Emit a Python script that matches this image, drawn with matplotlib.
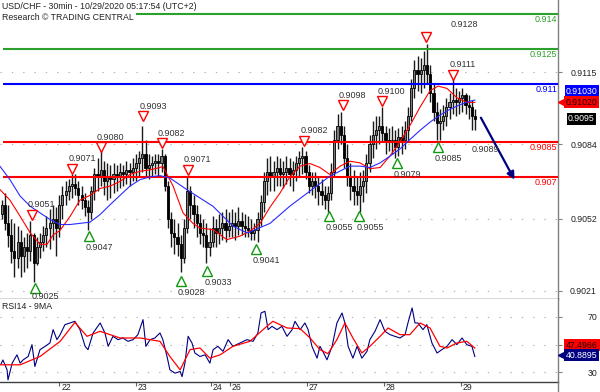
import matplotlib
matplotlib.use("Agg")
import matplotlib.pyplot as plt
import matplotlib.transforms as mtrans
from matplotlib.lines import Line2D
import numpy as np

plt.rcParams["font.family"] = ["Liberation Sans", "DejaVu Sans"]

# ---------------- data (prices in 1/10000 units, hourly bars) ----------------
first_open = 9054
highs = [9060, 9063, 9058, 9052, 9050, 9049, 9047, 9044, 9046, 9051,
         9046, 9044, 9046, 9049, 9053, 9056, 9058, 9057, 9062, 9066,
         9068, 9069, 9071, 9071, 9068, 9066, 9063, 9060, 9066, 9074,
         9078, 9081, 9077, 9076, 9075, 9076, 9075, 9076, 9075, 9077,
         9076, 9078, 9080, 9081, 9092, 9086, 9080, 9079, 9080, 9080,
         9082, 9080, 9068, 9055, 9052, 9050, 9045, 9052, 9070, 9066,
         9062, 9058, 9054, 9052, 9050, 9048, 9053, 9052, 9054, 9055,
         9056, 9055, 9056, 9055, 9057, 9055, 9054, 9053, 9052, 9050,
         9055, 9062, 9072, 9078, 9079, 9077, 9079, 9078, 9077, 9079,
         9078, 9077, 9079, 9081, 9083, 9081, 9075, 9072, 9072, 9070,
         9069, 9066, 9066, 9076, 9090, 9097, 9098, 9092, 9084, 9076,
         9073, 9070, 9072, 9073, 9080, 9088, 9094, 9096, 9096, 9100,
         9092, 9091, 9092, 9090, 9091, 9092, 9094, 9100, 9112, 9120,
         9122, 9121, 9124, 9127, 9118, 9110, 9102, 9099, 9101, 9104,
         9106, 9112, 9108, 9107, 9108, 9106, 9105, 9103, 9099]
lows = [9052, 9047, 9040, 9033, 9027, 9031, 9027, 9029, 9031, 9034,
        9025, 9032, 9035, 9038, 9040, 9039, 9043, 9036, 9044, 9052,
        9058, 9060, 9061, 9062, 9058, 9056, 9053, 9047, 9052, 9060,
        9064, 9066, 9062, 9060, 9061, 9063, 9064, 9065, 9066, 9067,
        9066, 9068, 9068, 9070, 9072, 9070, 9069, 9070, 9071, 9070,
        9072, 9064, 9048, 9040, 9037, 9036, 9029, 9033, 9046, 9052,
        9048, 9044, 9041, 9040, 9033, 9036, 9040, 9040, 9041, 9043,
        9042, 9044, 9044, 9043, 9045, 9045, 9044, 9044, 9043, 9043,
        9042, 9049, 9055, 9062, 9064, 9064, 9066, 9066, 9065, 9067,
        9066, 9064, 9068, 9070, 9071, 9069, 9063, 9062, 9061, 9058,
        9058, 9056, 9055, 9060, 9070, 9082, 9084, 9074, 9066, 9060,
        9058, 9058, 9055, 9059, 9063, 9072, 9078, 9082, 9084, 9085,
        9080, 9081, 9080, 9078, 9079, 9080, 9082, 9085, 9094, 9104,
        9107, 9106, 9108, 9110, 9102, 9094, 9086, 9086, 9090, 9092,
        9095, 9097, 9096, 9097, 9098, 9097, 9095, 9090, 9090]
closes = [9058, 9050, 9045, 9038, 9035, 9042, 9036, 9040, 9038, 9045,
          9033, 9040, 9042, 9045, 9048, 9050, 9052, 9048, 9058, 9062,
          9064, 9066, 9067, 9065, 9062, 9060, 9057, 9055, 9064, 9071,
          9070, 9073, 9068, 9070, 9069, 9071, 9070, 9072, 9071, 9073,
          9072, 9074, 9076, 9078, 9080, 9074, 9075, 9076, 9077, 9076,
          9079, 9066, 9052, 9046, 9044, 9041, 9035, 9048, 9064, 9058,
          9054, 9050, 9046, 9045, 9040, 9042, 9048, 9046, 9048, 9050,
          9047, 9049, 9050, 9049, 9051, 9049, 9048, 9047, 9046, 9047,
          9052, 9059, 9068, 9072, 9070, 9072, 9074, 9071, 9072, 9074,
          9071, 9073, 9076, 9078, 9079, 9072, 9066, 9068, 9066, 9064,
          9062, 9060, 9063, 9072, 9086, 9092, 9088, 9078, 9070, 9066,
          9064, 9062, 9066, 9068, 9076, 9084, 9088, 9090, 9092, 9089,
          9086, 9085, 9086, 9083, 9087, 9086, 9090, 9096, 9108, 9116,
          9114, 9116, 9118, 9114, 9106, 9098, 9093, 9094, 9096, 9100,
          9102, 9103, 9102, 9104, 9105, 9101, 9100, 9096, 9095]

# moving averages on price (hour index, price)
red_ma_t = [0, 3.1, 6.3, 9.4, 12.5, 14.7, 16.6, 18.8, 21.9, 25, 28.1, 31.3, 34.4, 37.5,
            40.6, 43.8, 46.9, 50, 50.9, 54.1, 57.2, 60.3, 62.5, 66.6, 70.9, 75, 78.1, 81.3,
            84.4, 87.5, 90.6, 93.8, 96.9, 100, 103.1, 106.3, 109.4, 112.5, 115.6, 118.8,
            121.9, 125, 128.1, 131.3, 134.4, 136.9, 139.7, 142.8, 145.9, 148.4]
red_ma_v = [9064.5, 9060, 9053, 9046, 9041, 9041, 9045, 9047, 9053, 9060, 9062, 9065, 9066,
            9068, 9071, 9072.4, 9073, 9074, 9074.5, 9066, 9054.5, 9050, 9048, 9047.3, 9043,
            9044.5, 9046.7, 9050, 9057, 9063, 9070, 9074.6, 9075.7, 9074, 9071, 9074.6,
            9076.7, 9076, 9073.5, 9074, 9079, 9085, 9092, 9100, 9107, 9109, 9108, 9104,
            9102, 9102]
blue_ma_t = [0, 3.1, 6.3, 9.4, 12.5, 15.6, 18.8, 21.9, 25, 28.1, 31.3, 34.4, 37.5, 40.6,
             43.8, 46.9, 50, 53.1, 58.4, 66.6, 72.8, 77.2, 78.1, 84.4, 90.6, 96.9, 103.1,
             109.4, 112.5, 115.6, 118.8, 121.9, 125, 128.1, 131.3, 134.4, 137.5, 140.6,
             143.8, 146.9, 148.4]
blue_ma_v = [9074.5, 9068.8, 9061.7, 9057.4, 9054.5, 9051.7, 9049.5, 9049.5, 9050, 9050.5,
             9053.8, 9058, 9062, 9066, 9068.8, 9070, 9070.5, 9069.5, 9064.5, 9057.3, 9048.8,
             9045.9, 9046.3, 9050, 9057.4, 9063.9, 9070.3, 9074.6, 9074.6, 9074, 9076,
             9078.9, 9082, 9086, 9090, 9093.5, 9096.5, 9099, 9101, 9102.5, 9103]

# support / resistance levels
levels = [0.9140, 0.9125, 0.9110, 0.9085, 0.9070]
level_labels = ["0.914", "0.9125", "0.911", "0.9085", "0.907"]
level_colors = ["#2ca02c", "#2ca02c", "#0000ff", "#ff0000", "#ff0000"]

# swing markers
high_t = [10.0, 22.6, 31.5, 44.8, 50.5, 58.7, 95.1, 107.1, 119.3, 133.3, 141.7]
high_p = [9053.8, 9073.4, 9082.8, 9096, 9084.5, 9073, 9085.6, 9100.7, 9102.4, 9130.3, 9113.8]
high_lbl = ["0.9051", "0.9071", "0.9080", "0.9093", "0.9082", "0.9071", "0.9082",
            "0.9098", "0.9100", "0.9128", "0.9111"]
low_t = [10.9, 27.8, 56.5, 64.8, 80.0, 102.8, 112.3, 124.0, 136.8]
low_p = [9022, 9044.4, 9025.1, 9029.7, 9038.8, 9053, 9053, 9076, 9082.8]
low_lbl = ["0.9025", "0.9047", "0.9028", "0.9033", "0.9041", "0.9055", "0.9055",
           "0.9079", "0.9085"]

# projection
proj_from = (150.3, 9095.4)
proj_to = (160.8, 9068.8)
proj_lbl = "0.9089"
proj_lbl_pos = (147.4, 9081.7)

# RSI
rsi_t = [0.3, 0.9, 2.2, 2.5, 3.8, 5.3, 6.3, 7.2, 8.8, 10.0, 10.9, 12.5, 14.1, 15.6, 16.6,
         17.8, 18.8, 20.3, 21.9, 23.4, 25.0, 26.6, 27.5, 29.1, 31.3, 32.8, 33.8, 35.3,
         36.9, 38.4, 40.0, 41.6, 43.1, 44.7, 45.6, 46.9, 48.4, 50.0, 50.9, 52.2, 53.1,
         54.7, 56.3, 56.9, 57.8, 58.8, 60.0, 60.9, 62.5, 64.1, 65.6, 66.6, 68.1, 69.7,
         71.3, 72.8, 75.0, 77.2, 79.1, 80.6, 81.6, 82.8, 83.8, 85.0, 86.6, 88.1, 89.7,
         91.3, 92.2, 93.8, 95.3, 96.3, 97.5, 99.1, 100.0, 100.9, 102.2, 103.8, 105.3,
         106.9, 107.8, 108.8, 110.3, 111.6, 113.1, 114.7, 115.6, 117.2, 118.8, 120.3,
         121.9, 123.4, 125.0, 126.6, 127.5, 128.8, 129.7, 130.6, 132.2, 133.4, 135.0,
         136.6, 138.1, 139.7, 141.3, 142.8, 144.4, 145.9, 147.5, 148.4]
rsi_v = [36, 39, 32, 24.7, 36.7, 42.7, 36.7, 39, 41.5, 50, 34.3, 46.4, 48.8, 51.2, 60.8,
         53.6, 57.2, 64.4, 65.6, 66.8, 60.8, 48.8, 46.4, 58.4, 65.6, 58.4, 48.8, 56, 53.6,
         54.8, 52.4, 53.6, 57.2, 68, 48.8, 53.6, 54.8, 58.4, 53.6, 41.5, 31.9, 29.5, 30.7,
         27, 36.7, 56, 51.2, 44, 41.5, 42.7, 36.7, 46.4, 48.8, 45.2, 53.6, 48.8, 51.2,
         53.6, 52.4, 58.4, 72.8, 74, 60.8, 63.2, 60.8, 63.2, 56, 60.8, 66.8, 60.8, 65.6,
         60.8, 48.8, 40.3, 48.8, 45.2, 39.1, 48.8, 65.6, 72.8, 65.6, 48.8, 40.3, 48.8,
         40.3, 45.2, 53.6, 59.6, 68, 59.6, 57.2, 56, 54.8, 57.2, 65.6, 76.4, 65.6, 65.6,
         60.8, 64.4, 51.2, 44, 46.4, 48.8, 53.6, 50, 54.8, 50, 48.8, 41.5]
rsi_ma_t = [0, 6.3, 12.5, 18.8, 23.4, 27.2, 31.3, 37.5, 43.8, 50, 53.1, 56.3, 59.4, 62.5,
            65.6, 68.8, 72.8, 78.1, 83.4, 85.3, 89.7, 93.8, 96.9, 100, 102.5, 105.3, 107.8,
            110.3, 113.1, 115.6, 118.8, 121.3, 125, 128.1, 131.3, 134.4, 137.5, 139.7,
            142.8, 145.9, 148.4]
rsi_ma_v = [35.5, 35.5, 41.5, 52.4, 66, 56, 59.6, 54.8, 54.8, 52.4, 41.5, 31.9, 46.4, 47.6,
            40.3, 42.7, 48.8, 52.4, 63.2, 66.8, 62, 61.5, 54.8, 46.4, 43.5, 53.6, 65.6, 54.8,
            44, 48.8, 56, 62, 57.2, 57.2, 65.6, 62, 48.8, 47.6, 51.2, 52.4, 47.6]

day_ticks = [18.5, 42.4, 65.9, 71.9, 95.8, 120.0, 144.1]
day_labels = ["22", "23", "24", "26", "27", "28", "29"]
price_ticks = [0.9115, 0.9084, 0.9052, 0.9021]
rsi_ticks = [30, 50, 70]

# ---------------- figure ----------------
W, H = 600, 392
fig = plt.figure(figsize=(6, 3.92), dpi=100)
fig.patch.set_facecolor("white")


def fy(px):
    return 1 - px / H


PX = 72 / 100.0  # points per pixel
AXR = 558
ax = fig.add_axes([0, fy(298.5), AXR / W, 298.5 / H])
axr = fig.add_axes([0, fy(381.5), AXR / W, (381.5 - 298.5) / H], sharex=ax)

XMAX = 174.4
ax.set_xlim(0, XMAX)
ax.set_ylim(0.90177, 0.91460)
axr.set_ylim(23.5, 83.2)

# candles
t = np.arange(len(closes)) + 0.5
c = np.array(closes) / 1e4
h = np.array(highs) / 1e4
lo = np.array(lows) / 1e4
o = np.concatenate([[first_open / 1e4], c[:-1]])
ax.vlines(t, lo, h, color="#1a1a1a", lw=1.0, zorder=3)
up = c >= o
ax.bar(t[up], (c - o)[up], bottom=o[up], width=0.68, color="#7a7a7a",
       edgecolor="black", lw=0.6, zorder=4)
ax.bar(t[~up], (o - c)[~up], bottom=c[~up], width=0.68, color="black",
       edgecolor="black", lw=0.6, zorder=4)

# level lines
blend = mtrans.blended_transform_factory(ax.transAxes, ax.transData)
for lv, lb, col in zip(levels, level_labels, level_colors):
    ax.hlines(lv, 0.9, XMAX, color=col, lw=1.5, zorder=4.5)
    ax.annotate(lb, xy=(557 / AXR, lv), xycoords=blend, xytext=(0, -1 * PX),
                textcoords="offset points", ha="right", va="top",
                fontsize=6.5, color=col, zorder=7)

# moving averages
ax.plot(red_ma_t, np.array(red_ma_v) / 1e4, color="#ff0000", lw=0.8, zorder=5)
ax.plot(blue_ma_t, np.array(blue_ma_v) / 1e4, color="#2b2bff", lw=0.8, zorder=5)

# markers
ax.plot(high_t, np.array(high_p) / 1e4, "v", ms=6.5, mfc="white", mec="#ff0000",
        mew=1.0, zorder=6, ls="none")
ax.plot(low_t, np.array(low_p) / 1e4, "^", ms=6.5, mfc="white", mec="#119911",
        mew=1.0, zorder=6, ls="none")
for tt, pp, lb in zip(high_t, high_p, high_lbl):
    off = (-4 * PX, 10 * PX)
    if lb == "0.9128":
        off = (24 * PX, 12 * PX)
    ax.annotate(lb, xy=(tt, pp / 1e4), xytext=off, textcoords="offset points",
                ha="left", va="center", fontsize=6.5, color="#333333", zorder=7,
                clip_on=True)
for i, (tt, pp, lb) in enumerate(zip(low_t, low_p, low_lbl)):
    dy = -8.5 if i == 0 else -11.5
    ax.annotate(lb, xy=(tt, pp / 1e4), xytext=(-3 * PX, dy * PX),
                textcoords="offset points", ha="left", va="center", fontsize=6.5,
                color="#333333", zorder=7, clip_on=True)

# projection arrow
ax.annotate("", xy=(proj_to[0], proj_to[1] / 1e4),
            xytext=(proj_from[0], proj_from[1] / 1e4),
            arrowprops=dict(arrowstyle="-|>", color="#000080", lw=1.6,
                            mutation_scale=11, shrinkA=0, shrinkB=0), zorder=7)
ax.text(proj_lbl_pos[0], proj_lbl_pos[1] / 1e4, proj_lbl, ha="left", va="center",
        fontsize=6.5, color="#333333", zorder=7)

# RSI
axr.plot(rsi_t, rsi_v, color="#000080", lw=0.8, zorder=4)
axr.plot(rsi_ma_t, rsi_ma_v, color="#ff0000", lw=0.9, zorder=5)
axr.text(2 / AXR, 1 - 8 / 83, "RSI14 - 9MA", transform=axr.transAxes,
         fontsize=6.3, va="center", ha="left", color="#222222")

# axes styling
dots = (0, (1.2, 9))
for a, ticks, labels in ((ax, price_ticks, ["%.4f" % v for v in price_ticks]),
                         (axr, rsi_ticks, ["30", "", "70"])):
    a.yaxis.tick_right()
    a.set_yticks(ticks)
    a.set_yticklabels(labels)
    a.grid(axis="y", color="#b0b0b0", linestyle=dots, lw=0.8)
    a.set_axisbelow(True)
    a.tick_params(axis="y", direction="out", length=4 * PX, width=0.8,
                  color="#808080", labelsize=6.3, pad=35 * PX, labelcolor="#222222")
    for lbl in a.get_yticklabels():
        lbl.set_ha("right")
    for s in ("top", "left"):
        a.spines[s].set_visible(False)
    a.spines["right"].set_color("#808080")
    a.spines["right"].set_linewidth(1.0)
    a.spines["bottom"].set_color("#404040")
    a.spines["bottom"].set_linewidth(1.0)
    a.set_facecolor("white")

ax.tick_params(axis="x", bottom=False, labelbottom=False)
axr.set_xticks(day_ticks)
axr.set_xticklabels(day_labels)
axr.tick_params(axis="x", direction="out", length=4 * PX, width=0.8, color="#606060",
                labelsize=6.3, pad=-2.5 * PX, labelcolor="#222222")
shift = mtrans.ScaledTranslation(2 / 100.0, 0, fig.dpi_scale_trans)
for lbl in axr.get_xticklabels():
    lbl.set_ha("left")
    lbl.set_transform(lbl.get_transform() + shift)

# value boxes on the right
def box(a, y, txt, fc, tc, xc, arrow=False):
    bl = mtrans.blended_transform_factory(a.transAxes, a.transData)
    a.text(xc / AXR, y, txt, transform=bl, ha="center", va="center", fontsize=6.3,
           color=tc, zorder=8, clip_on=False,
           bbox=dict(boxstyle="square,pad=0.18", fc=fc, ec="none"))
    if arrow:
        a.plot([561 / AXR], [y], marker="<", ms=5, color=fc, transform=bl,
               clip_on=False, zorder=8)

box(ax, 0.910676, "0.91030", "#0000ff", "white", 582)
box(ax, 0.91020, "0.91020", "#ff0000", "#200000", 581.5, arrow=True)
box(ax, 0.9095, "0.9095", "black", "white", 581.5)
box(axr, 49.6, "47.4966", "#ff0000", "#200000", 582)
box(axr, 42.3, "40.8895", "#000080", "white", 581.5, arrow=True)

# extend right border to figure bottom
fig.add_artist(Line2D([AXR / W + 0.0008] * 2, [0, fy(381.5)], color="#808080", lw=1.0))

# title
fig.text(2 / W, fy(6.5), "USD/CHF - 30min - 10/29/2020 05:17:54 (UTC+2)",
         fontsize=6.3, va="center", ha="left", color="#222222")
fig.text(2 / W, fy(17.5), "Research \u00a9 TRADING CENTRAL", fontsize=6.3,
         va="center", ha="left", color="#222222",
         bbox=dict(boxstyle="square,pad=0.25", fc="white", ec="none"))

fig.savefig("out.png", dpi=100)
